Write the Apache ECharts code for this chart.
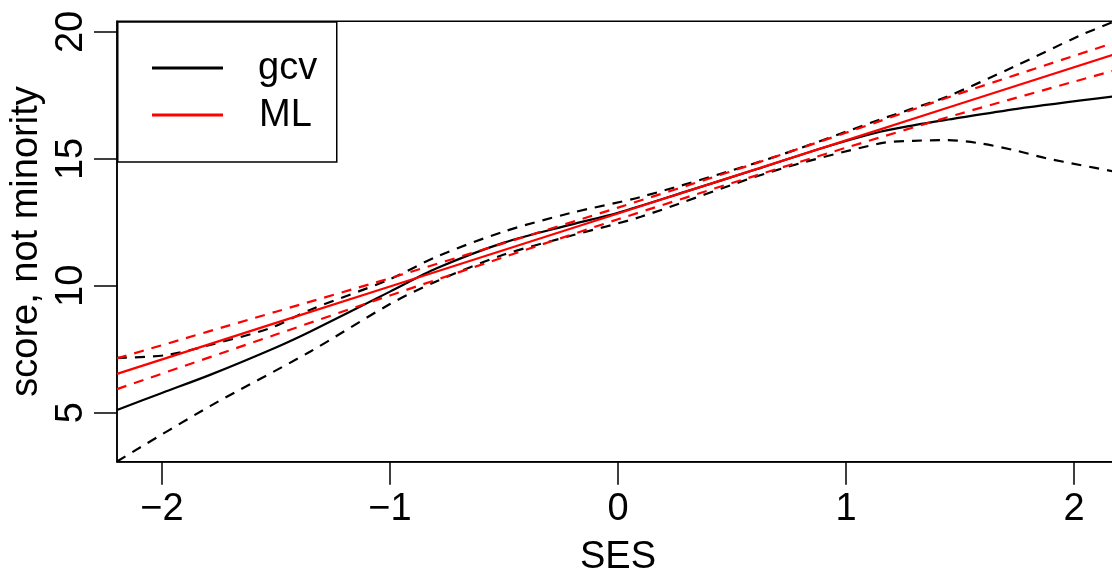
<!DOCTYPE html>
<html>
<head>
<meta charset="utf-8">
<script src="https://cdn.jsdelivr.net/npm/echarts@6/dist/echarts.min.js"></script>
<style>
html,body{margin:0;padding:0;background:#fff;}
#c{width:1112px;height:571px;}
</style>
</head>
<body>
<div id="c"></div>
<script>
// ---- data ----
const xTicks = [-2, -1, 0, 1, 2];
const xTickLabels = ['\u22122', '\u22121', '0', '1', '2'];
const yTicks = [5, 10, 15, 20];
const yTickLabels = ['5', '10', '15', '20'];

// gcv fit (black solid) and its bands (black dashed)
const sesGcv = [-2.197, -2.0, -1.789, -1.5, -1.351, -1.0, -0.795, -0.5, -0.211, 0.0, 0.3, 0.6, 0.9, 1.15, 1.3, 1.45, 1.75, 2.167];
const gcvFit = [5.11, 5.78, 6.49, 7.57, 8.19, 9.77, 10.69, 11.70, 12.40, 12.88, 13.72, 14.57, 15.44, 16.07, 16.33, 16.55, 16.97, 17.45];

const sesGcvUp = [-2.197, -1.98, -1.789, -1.526, -1.351, -1.0, -0.795, -0.503, -0.211, 0.1, 0.667, 1.149, 1.281, 1.442, 1.734, 2.026, 2.167];
const gcvUpper = [7.16, 7.27, 7.67, 8.33, 9.05, 10.26, 11.15, 12.13, 12.86, 13.50, 15.02, 16.55, 16.95, 17.45, 18.62, 19.86, 20.38];

const sesGcvLo = [-2.197, -1.789, -1.351, -1.0, -0.795, -0.503, -0.211, 0.1, 0.667, 1.149, 1.295, 1.442, 1.588, 1.734, 1.880, 2.026, 2.167];
const gcvLower = [3.08, 5.26, 7.40, 9.28, 10.18, 11.22, 11.96, 12.72, 14.48, 15.61, 15.71, 15.74, 15.61, 15.35, 15.02, 14.76, 14.52];

// ML fit (red solid) and its bands (red dashed)
const sesMl = [-2.197, -1.5, -1.0, -0.5, 0.0, 0.5, 1.0, 1.5, 2.167];
const mlFit = [6.53, 8.54, 9.97, 11.41, 12.85, 14.29, 15.73, 17.17, 19.09];
const mlUpper = [7.14, 8.98, 10.30, 11.68, 13.08, 14.52, 16.03, 17.58, 19.55];
const mlLower = [5.93, 8.08, 9.62, 11.13, 12.62, 14.05, 15.44, 16.78, 18.46];

const legendNames = ['gcv', 'ML'];
// ---------------------------------------

function zip(xs, ys) { return xs.map((x, i) => [x, ys[i]]); }

const FONT = '"Liberation Sans", Arial, Helvetica, sans-serif';
const chart = echarts.init(document.getElementById('c'), null, {renderer: 'canvas'});

const dash = [10, 8];
function ser(name, xs, ys, color, dashed, smooth) {
  return {
    name: name,
    type: 'line',
    data: zip(xs, ys),
    showSymbol: false,
    symbol: 'none',
    smooth: smooth,
    clip: true,
    animation: false,
    lineStyle: {color: color, width: 2.2, type: dashed ? dash : 'solid'},
    emphasis: {disabled: true}
  };
}

const option = {
  backgroundColor: '#ffffff',
  animation: false,
  grid: {
    left: 117, top: 21.3, right: -7, bottom: 109.3,
    containLabel: false, outerBoundsMode: 'none',
    show: true, borderColor: '#000', borderWidth: 1.5, backgroundColor: 'transparent'
  },
  xAxis: {
    type: 'value', min: -2.197, max: 2.197,
    name: 'SES', nameLocation: 'middle', nameGap: 77,
    nameTextStyle: {fontFamily: FONT, fontSize: 38, color: '#000'},
    axisLine: {show: true, onZero: false, lineStyle: {color: '#000', width: 1.5}},
    axisTick: {show: true, inside: false, length: 23, lineStyle: {color: '#000', width: 1.5}, customValues: xTicks},
    axisLabel: {
      show: true, margin: 29, fontFamily: FONT, fontSize: 38, color: '#000',
      customValues: xTicks,
      formatter: v => { const i = xTicks.indexOf(v); return i >= 0 ? xTickLabels[i] : ''; }
    },
    splitLine: {show: false}
  },
  yAxis: {
    type: 'value', min: 3.07, max: 20.42,
    name: 'score, not minority', nameLocation: 'middle', nameGap: 61, nameRotate: 90,
    nameTextStyle: {fontFamily: FONT, fontSize: 38, color: '#000'},
    axisLine: {show: true, onZero: false, lineStyle: {color: '#000', width: 1.5}},
    axisTick: {show: true, inside: false, length: 23, lineStyle: {color: '#000', width: 1.5}, customValues: yTicks},
    axisLabel: {
      show: true, margin: 26, rotate: 90, fontFamily: FONT, fontSize: 38, color: '#000',
      customValues: yTicks,
      formatter: v => { const i = yTicks.indexOf(v); return i >= 0 ? yTickLabels[i] : ''; }
    },
    splitLine: {show: false}
  },
  series: [
    ser('gcv', sesGcv, gcvFit, '#000000', false, 0.3),
    ser('gcv upper', sesGcvUp, gcvUpper, '#000000', true, 0.3),
    ser('gcv lower', sesGcvLo, gcvLower, '#000000', true, 0.3),
    ser('ML', sesMl, mlFit, '#ff0000', false, false),
    ser('ML upper', sesMl, mlUpper, '#ff0000', true, 0.3),
    ser('ML lower', sesMl, mlLower, '#ff0000', true, 0.3)
  ],
  graphic: [
    {type: 'rect', left: 117, top: 21.3, z: 100,
     shape: {width: 219, height: 140}, style: {fill: '#fff', stroke: '#000', lineWidth: 1.5}},
    {type: 'line', z: 101, shape: {x1: 152, y1: 68, x2: 223, y2: 68}, style: {stroke: '#000000', lineWidth: 3.2}},
    {type: 'line', z: 101, shape: {x1: 152, y1: 115, x2: 223, y2: 115}, style: {stroke: '#ff0000', lineWidth: 3.2}},
    {type: 'text', z: 101, x: 258, y: 69, style: {text: legendNames[0], font: '38px ' + FONT, fill: '#000', verticalAlign: 'middle', align: 'left'}},
    {type: 'text', z: 101, x: 259, y: 116, style: {text: legendNames[1], font: '38px ' + FONT, fill: '#000', verticalAlign: 'middle', align: 'left'}}
  ]
};
chart.setOption(option);
</script>
</body>
</html>
